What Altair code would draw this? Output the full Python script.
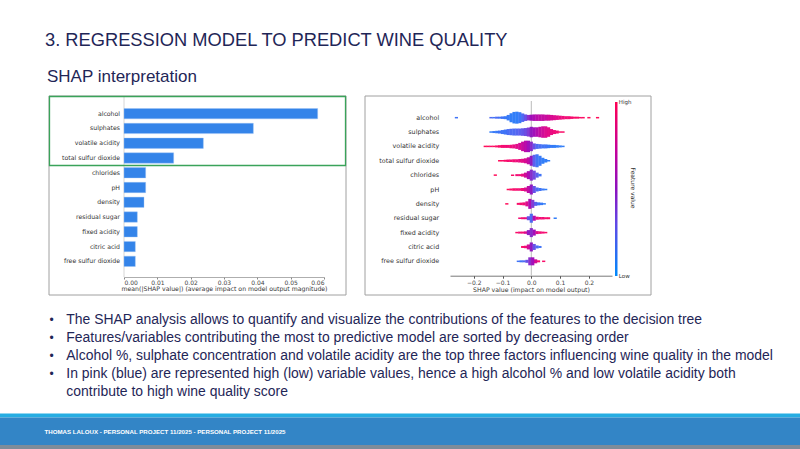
import altair as alt
import pandas as pd

# ---------------- data ----------------
features = ["alcohol", "sulphates", "volatile acidity", "total sulfur dioxide",
            "chlorides", "pH", "density", "residual sugar", "fixed acidity",
            "citric acid", "free sulfur dioxide"]
mean_abs_shap = [0.0581, 0.0388, 0.0238, 0.0149, 0.0065, 0.0065, 0.0060,
                 0.0040, 0.0040, 0.0034, 0.0034]
bar_ticks = [0.0, 0.01, 0.02, 0.03, 0.04, 0.05, 0.06]
swarm_ticks = [-0.2, -0.1, 0.0, 0.1, 0.2]

# beeswarm: SHAP bin position, swarm thickness (px), mean feature value (0 low .. 1 high)
alcohol_x = [-0.26, -0.14, -0.13, -0.12, -0.11, -0.10, -0.09, -0.08, -0.07, -0.06, -0.05, -0.04, -0.03, -0.02, -0.01,
             0.00, 0.01, 0.02, 0.03, 0.04, 0.05, 0.06, 0.07, 0.08, 0.09, 0.10, 0.11, 0.12, 0.13, 0.14, 0.15, 0.16,
             0.17, 0.18, 0.20, 0.23]
alcohol_h = [1.5, 1.5, 1.5, 2, 2, 2.5, 3, 5.5, 9, 11.5, 12, 11, 8.5, 6.5, 5.5, 6, 6.5, 6.5, 6.5, 6.5, 6, 6, 5.5, 5, 4.5,
             4, 3.5, 3, 3, 2.5, 2, 2, 1.5, 1.5, 1.5, 1.5]
alcohol_c = [0.15, 0.2, 0.15, 0.2, 0.15, 0.15, 0.12, 0.12, 0.1, 0.1, 0.1, 0.12, 0.2, 0.3, 0.45, 0.55, 0.6, 0.65, 0.68,
             0.7, 0.72, 0.75, 0.78, 0.8, 0.82, 0.85, 0.88, 0.9, 0.9, 0.92, 0.95, 0.95, 0.95, 0.97, 1, 1]
sulphates_x = [-0.14, -0.13, -0.12, -0.11, -0.10, -0.09, -0.08, -0.07, -0.06, -0.05, -0.04, -0.03, -0.02, -0.01, 0.00,
               0.01, 0.02, 0.03, 0.04, 0.05, 0.06, 0.07, 0.08, 0.09, 0.10, 0.11]
sulphates_h = [1.5, 2, 2.5, 3, 4, 5, 6, 6.5, 7, 7, 7, 7.5, 8, 9, 10.5, 9.5, 9.5, 10.5, 11.5, 11.5, 9.5, 6, 4, 3, 1.5, 1.5]
sulphates_c = [0.1, 0.12, 0.12, 0.15, 0.15, 0.15, 0.18, 0.2, 0.2, 0.22, 0.25, 0.28, 0.32, 0.4, 0.5, 0.55, 0.62, 0.7,
               0.75, 0.8, 0.82, 0.85, 0.88, 0.9, 0.95, 0.95]
volatile_x = [-0.16, -0.15, -0.14, -0.13, -0.12, -0.11, -0.10, -0.09, -0.08, -0.07, -0.06, -0.05, -0.04, -0.03, -0.02,
              -0.01, 0.00, 0.01, 0.02, 0.03, 0.04, 0.05, 0.06, 0.07, 0.08, 0.09, 0.10, 0.11]
volatile_h = [1.5, 1.5, 1.5, 1.5, 2, 2.5, 3, 3, 3, 3.5, 4, 5, 7, 9.5, 11.5, 11.5, 9.5, 6, 5, 4.5, 4, 4, 3.5, 3, 3, 2.5,
              2, 1.5]
volatile_c = [1, 1, 0.95, 1, 0.95, 0.95, 0.92, 0.9, 0.9, 0.88, 0.85, 0.82, 0.78, 0.72, 0.65, 0.55, 0.45, 0.3, 0.2,
              0.18, 0.15, 0.15, 0.12, 0.12, 0.1, 0.1, 0.1, 0.1]
tsd_x = [-0.11, -0.10, -0.09, -0.08, -0.07, -0.06, -0.05, -0.04, -0.03, -0.02, -0.01, 0.00, 0.01, 0.02, 0.03, 0.04,
         0.05, 0.06]
tsd_h = [1.5, 1.5, 2, 2.5, 2.5, 3, 3, 3.5, 4, 5, 7, 10, 12, 13, 10, 6, 3.5, 1.5]
tsd_c = [1, 0.95, 0.95, 0.92, 0.9, 0.9, 0.88, 0.85, 0.82, 0.78, 0.7, 0.5, 0.25, 0.15, 0.12, 0.1, 0.1, 0.1]
chlorides_x = [-0.125, -0.065, -0.05, -0.04, -0.03, -0.02, -0.01, 0.00, 0.01, 0.02, 0.03]
chlorides_h = [1.5, 1.5, 2, 2, 3, 5, 8, 11, 9, 5, 2.5]
chlorides_c = [1, 0.95, 0.9, 0.9, 0.85, 0.75, 0.6, 0.45, 0.35, 0.25, 0.15]
ph_x = [-0.08, -0.07, -0.06, -0.05, -0.04, -0.03, -0.02, -0.01, 0.00, 0.01, 0.02, 0.03, 0.04, 0.05]
ph_h = [1.5, 2, 2.5, 2.5, 2.5, 3, 4, 7, 10, 7, 4, 3, 2, 1.5]
ph_c = [1, 0.95, 0.95, 0.92, 0.9, 0.88, 0.8, 0.68, 0.5, 0.3, 0.2, 0.15, 0.12, 0.1]
density_x = [-0.085, -0.045, -0.035, -0.025, -0.015, -0.005, 0.005, 0.015, 0.025, 0.035, 0.045]
density_h = [1.5, 2, 2.5, 3, 5, 10, 8, 4, 3, 2.5, 1.5]
density_c = [1, 0.95, 0.92, 0.9, 0.8, 0.6, 0.4, 0.25, 0.15, 0.12, 0.1]
sugar_x = [-0.04, -0.03, -0.02, -0.01, 0.00, 0.01, 0.02, 0.03, 0.04, 0.05, 0.06, 0.083]
sugar_h = [1.5, 2, 2, 4, 9, 5, 3, 2.5, 2.5, 2, 2, 1.5]
sugar_c = [0.9, 0.9, 0.85, 0.3, 0.2, 0.6, 0.85, 0.9, 0.9, 0.92, 0.95, 0.1]
fixed_x = [-0.05, -0.04, -0.03, -0.02, -0.01, 0.00, 0.01, 0.02, 0.03, 0.04, 0.05]
fixed_h = [1.5, 2, 2, 2.5, 5, 9, 6, 3, 2.5, 2, 1.5]
fixed_c = [0.95, 0.9, 0.9, 0.8, 0.5, 0.45, 0.55, 0.8, 0.9, 0.9, 0.95]
citric_x = [-0.03, -0.02, -0.01, 0.00, 0.01, 0.02, 0.03]
citric_h = [2, 2.5, 5, 9, 6, 3, 2]
citric_c = [0.95, 0.9, 0.75, 0.5, 0.3, 0.2, 0.15]
fsd_x = [-0.045, -0.035, -0.025, -0.015, -0.005, 0.005, 0.015, 0.025, 0.043]
fsd_h = [1.5, 2, 2, 3, 8, 8, 4, 2, 1.5]
fsd_c = [0.15, 0.15, 0.2, 0.3, 0.45, 0.55, 0.75, 0.9, 0.95]

swarm_sets = [(alcohol_x, alcohol_h, alcohol_c), (sulphates_x, sulphates_h, sulphates_c),
              (volatile_x, volatile_h, volatile_c), (tsd_x, tsd_h, tsd_c),
              (chlorides_x, chlorides_h, chlorides_c), (ph_x, ph_h, ph_c),
              (density_x, density_h, density_c), (sugar_x, sugar_h, sugar_c),
              (fixed_x, fixed_h, fixed_c), (citric_x, citric_h, citric_c), (fsd_x, fsd_h, fsd_c)]

title_text = "3. REGRESSION MODEL TO PREDICT WINE QUALITY"
subtitle_text = "SHAP interpretation"
bullets = [
    "The SHAP analysis allows to quantify and visualize the contributions of the features to the decision tree",
    "Features/variables contributing the most to predictive model are sorted by decreasing order",
    "Alcohol %, sulphate concentration and volatile acidity are the top three factors influencing wine quality in the model",
    "In pink (blue) are represented high (low) variable values, hence a high alcohol % and low volatile acidity both",
]
bullet_cont = "contribute to high wine quality score"
footer_text = "THOMAS LALOUX - PERSONAL PROJECT 11/2025 - PERSONAL PROJECT 11/2025"

# ---------------- build tables ----------------
bar_df = pd.DataFrame({"feature": features, "value": mean_abs_shap})
rows = []
for f, (xs, hs, cs) in zip(features, swarm_sets):
    for xv, hv, cv in zip(xs, hs, cs):
        rows.append({"feature": f, "shap": xv, "h": hv, "c": cv})
swarm_df = pd.DataFrame(rows)
one = pd.DataFrame({"k": [0]})

H = 449
NAVY = "#1f2657"
SANS = "Liberation Sans, Arial, sans-serif"
MPL = "DejaVu Sans, sans-serif"
cmap_colors = ["#008afb", "#5f48e6", "#8c10be", "#c4009a", "#ff0052"]
cmap_stops = [0, 0.3, 0.5, 0.72, 1]


def box(x0, y0, x1, y1, **kw):
    return alt.Chart(one).mark_rect(**kw).encode(
        x=alt.value(x0), x2=alt.value(x1), y=alt.value(y0), y2=alt.value(y1))


def label(txt, x, y, **kw):
    return alt.Chart(one).mark_text(text=txt, **kw).encode(x=alt.value(x), y=alt.value(y))


# ---------------- slide decoration ----------------
decor = [
    box(0, 413.5, 800, 417.5, color="#26ade2"),
    box(0, 417.5, 800, 445, color="#3385c6"),
    box(0, 445, 800, 449, color="#7d8c9a"),
    label(footer_text, 44.5, 431.5, font=SANS, fontSize=6.15, fontWeight="bold", color="white",
          align="left", baseline="middle"),
    label(title_text, 45, 45.5, font=SANS, fontSize=18.3, color=NAVY, align="left", baseline="alphabetic"),
    label(subtitle_text, 47, 81.5, font=SANS, fontSize=17, color=NAVY, align="left", baseline="alphabetic"),
    box(49, 96, 346, 295, filled=False, stroke="#a0a0a0", strokeWidth=1),
    box(365, 96, 651, 295, filled=False, stroke="#a0a0a0", strokeWidth=1),
]
line_y = [320, 337.8, 355.7, 373.6]
for t, yy in zip(bullets, line_y):
    decor.append(label("•", 49.5, yy, font=SANS, fontSize=12, color=NAVY, align="left", baseline="middle"))
    decor.append(label(t, 66.3, yy, font=SANS, fontSize=13.95, color=NAVY, align="left", baseline="middle"))
decor.append(label(bullet_cont, 66.3, 391.6, font=SANS, fontSize=13.95, color=NAVY, align="left",
                   baseline="middle"))

# ---------------- bar chart ----------------
bx = alt.Scale(domain=[0, 0.06], range=[124, 324], nice=False, zero=False)
by = alt.Scale(domain=features, range=[106.3, 268.7], paddingInner=0.3, paddingOuter=0.15)
bars = alt.Chart(bar_df).mark_bar(color="#3484e9", stroke="#9cc3f5", strokeWidth=0.4).encode(
    x=alt.X("value:Q", scale=bx,
            axis=alt.Axis(orient="bottom", offset=277 - H, values=bar_ticks, format=".2f",
                          title="mean(|SHAP value|) (average impact on model output magnitude)",
                          labelFont=MPL, labelFontSize=6, labelColor="#444", labelPadding=0.5,
                          tickSize=2, tickColor="#888", domainColor="#999", domainWidth=0.8,
                          titleFont=MPL, titleFontSize=6.2, titleFontWeight="normal", titleColor="#333",
                          titlePadding=0, grid=False)),
    x2=alt.datum(0),
    y=alt.Y("feature:N", scale=by, sort=features,
            axis=alt.Axis(orient="left", offset=-124, title=None, ticks=False, domain=False,
                          labelFont=MPL, labelFontSize=6.2, labelColor="#333", labelPadding=4.5)),
)
bar_zero = alt.Chart(one).mark_rule(color="#d6d6d6", strokeWidth=1).encode(
    x=alt.datum(0), y=alt.value(96), y2=alt.value(277))
bar_layer = alt.layer(bar_zero, bars)
green = box(49.5, 96.5, 345.5, 165.5, filled=False, stroke="#3aa35a", strokeWidth=1.3)

# ---------------- beeswarm ----------------
sx = alt.Scale(domain=[-0.2823, 0.2802], range=[450, 612], nice=False, zero=False)
sy = alt.Scale(domain=features, range=[110.5, 268.5], paddingInner=0, paddingOuter=0)
swarm_zero = alt.Chart(one).mark_rule(color="#bbbbbb", strokeWidth=1).encode(
    x=alt.datum(0), y=alt.value(101), y2=alt.value(275.7))
swarm = alt.Chart(swarm_df).mark_tick(orient="vertical", thickness=3.2, opacity=0.95).encode(
    x=alt.X("shap:Q", scale=sx,
            axis=alt.Axis(orient="bottom", offset=275.7 - H, values=swarm_ticks, format=".1f",
                          title="SHAP value (impact on model output)",
                          labelFont=MPL, labelFontSize=6, labelColor="#444", labelPadding=1,
                          tickSize=2.5, tickColor="#555", domainColor="#555", domainWidth=0.8,
                          titleFont=MPL, titleFontSize=6.2, titleFontWeight="normal", titleColor="#333",
                          titlePadding=1.5, grid=False)),
    y=alt.Y("feature:N", scale=sy, sort=features,
            axis=alt.Axis(orient="left", offset=-443, title=None, ticks=False, domain=False,
                          labelFont=MPL, labelFontSize=6.4, labelColor="#333", labelPadding=4.3)),
    size=alt.Size("h:Q", scale=None),
    color=alt.Color("c:Q", scale=alt.Scale(domain=cmap_stops, range=cmap_colors), legend=None),
)
swarm_layer = alt.layer(swarm_zero, swarm)

grad = alt.Gradient(gradient="linear", x1=0, y1=1, x2=0, y2=0,
                    stops=[alt.GradientStop(offset=o, color=c) for o, c in zip(cmap_stops, cmap_colors)])
cbar = [
    alt.Chart(one).mark_rect(color=grad).encode(
        x=alt.value(615), x2=alt.value(617.5), y=alt.value(102), y2=alt.value(276)),
    label("High", 618.8, 102, font=MPL, fontSize=5.5, color="#333", align="left", baseline="middle"),
    label("Low", 618.8, 276, font=MPL, fontSize=5.5, color="#333", align="left", baseline="middle"),
    label("Feature value", 632.5, 188, font=MPL, fontSize=6, color="#333", angle=90, align="center",
          baseline="middle"),
]

chart = alt.layer(*decor, bar_layer, green, swarm_layer, *cbar).resolve_scale(
    x="independent", y="independent", color="independent", size="independent"
).properties(
    width=800, height=H, padding=0, autosize=alt.AutoSizeParams(type="none"), background="#ffffff"
).configure_view(stroke=None)

chart.save("out.html", embed_options={"renderer": "svg", "actions": False})
